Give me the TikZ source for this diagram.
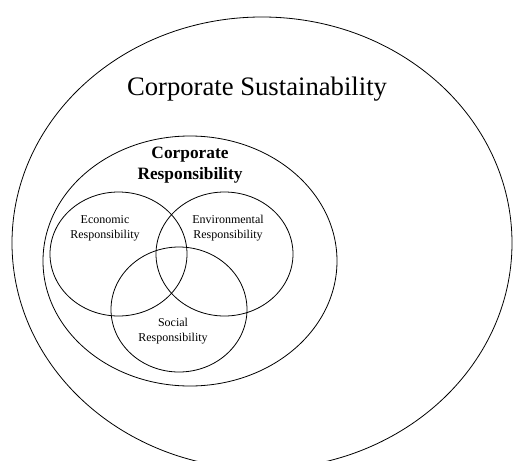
\documentclass[tikz,border=0pt]{standalone}
\usepackage{fontspec}
\setmainfont{Liberation Serif}
\usetikzlibrary{shapes.geometric}
\tikzstyle{ring}=[ellipse,draw=black,line width=0.6pt,inner sep=0pt,outer sep=0pt]
\tikzstyle{small}=[align=center,font=\fontsize{9}{11.2}\selectfont]

\begin{document}
\begin{tikzpicture}[x=0.75pt,y=-0.75pt]
\useasboundingbox (0,0) rectangle (515,461);
\clip (0,0) rectangle (515,461);

\node (sust) [ring,minimum width=375pt,minimum height=339pt] at (262,243) {};
\node (resp) [ring,minimum width=220.5pt,minimum height=187.5pt] at (190,261) {};
\node (econ) [ring,minimum width=102.75pt,minimum height=93pt] at (118.5,254) {};
\node (env) [ring,minimum width=102.75pt,minimum height=93pt] at (224.5,254) {};
\node (soc) [ring,minimum width=102pt,minimum height=93.75pt] at (179,309.5) {};

\node (sustlabel) [font=\fontsize{20}{24}\selectfont] at (257,89) {Corporate Sustainability};
\node (resplabel) [align=center,font=\fontsize{13}{15.6}\selectfont\bfseries] at (190,165) {Corporate\\Responsibility};
\node (econlabel) [small] at (105,228) {Economic\\Responsibility};
\node (envlabel) [small] at (228,228) {Environmental\\Responsibility};
\node (soclabel) [small] at (173,331) {Social\\Responsibility};
\end{tikzpicture}
\end{document}
